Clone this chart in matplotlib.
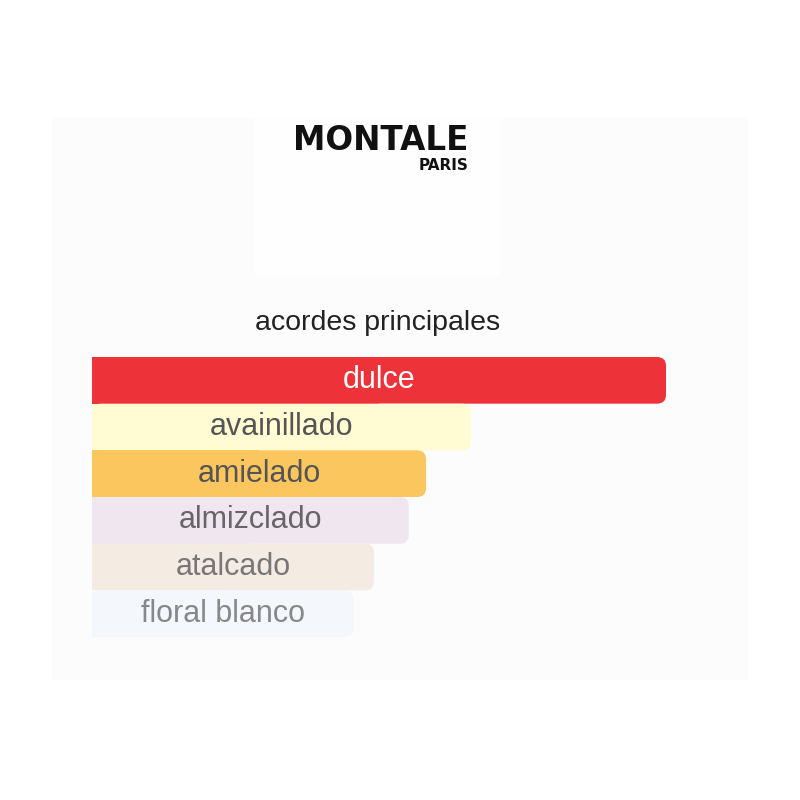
import matplotlib
matplotlib.use('Agg')
import matplotlib.pyplot as plt
from matplotlib.patches import FancyBboxPatch, Rectangle

acordes = ["dulce", "avainillado", "amielado", "almizclado", "atalcado", "floral blanco"]
valores = [100, 66, 58.2, 55.2, 49.1, 45.6]
colores = ["#EE3239", "#FFFBD3", "#FCC65E", "#EFE6F0", "#F4EBE3", "#F4F7FC"]
colores_texto = ["#FFFFFF", "#555555", "#555555", "#666666", "#777777", "#888888"]

W, H = 800, 800
fig = plt.figure(figsize=(8, 8), dpi=100)
fig.patch.set_facecolor("white")

# fondo del panel
bg = fig.add_axes([0, 0, 1, 1])
bg.set_xlim(0, W)
bg.set_ylim(H, 0)
bg.axis('off')
bg.add_patch(Rectangle((52, 118), 696, 562, facecolor="#FCFCFC", edgecolor="none"))
bg.add_patch(Rectangle((255, 118), 245, 157, facecolor="#FEFEFE", edgecolor="none"))

# logo
logo = bg.text(381, 150, "MONTALE", ha='center', va='baseline', fontsize=23.5,
               fontweight='heavy', color="#111111", family="DejaVu Sans")
fig.canvas.draw()
bb = logo.get_window_extent()
x_der = bb.x1
y_min = H - bb.y0
bg.text(x_der, y_min + 1, "PARIS", ha='right', va='top', fontsize=11,
        fontweight='heavy', color="#111111", family="DejaVu Sans")

bg.text(378, 323, "acordes principales", ha='center', va='center',
        fontsize=20.5, color="#222222", family="Liberation Sans")

# barras
ax = fig.add_axes([92 / W, 1 - 637 / H, 574 / W, 280 / H])
ax.set_xlim(0, 100)
ax.set_ylim(len(acordes) - 0.5, -0.5)
ax.axis('off')

px_x = 574 / 100
px_y = 280 / len(acordes)
r = 9 / px_x
aspecto = (9 / px_y) / r

for i, (nombre, v, c, tc) in enumerate(zip(acordes, valores, colores, colores_texto)):
    caja = FancyBboxPatch((0, i - 0.5), v, 1.0,
                          boxstyle=f"round,pad=0,rounding_size={r}",
                          mutation_aspect=aspecto,
                          facecolor=c, edgecolor="none", zorder=2)
    ax.add_patch(caja)
    ax.add_patch(Rectangle((0, i - 0.5), v / 2, 1.0, facecolor=c,
                           edgecolor="none", zorder=2))
    ax.text(v / 2, i, nombre, ha='center', va='center', fontsize=22,
            color=tc, family="Liberation Sans", zorder=3)

plt.savefig("out.png", dpi=100, facecolor="white")
plt.close()
